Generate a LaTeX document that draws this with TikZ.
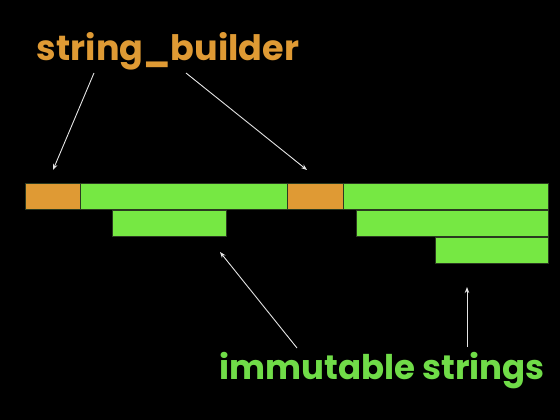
\documentclass[tikz,border=0pt]{standalone}
\usepackage{fontspec}
\setmainfont{Poppins}
\usetikzlibrary{arrows.meta}
\definecolor{sborange}{HTML}{DF9A34}
\definecolor{imgreen}{HTML}{76E843}
\definecolor{txtgreen}{HTML}{70DC48}
\definecolor{edge}{HTML}{2A3A20}
\begin{document}
\begin{tikzpicture}[x=1pt,y=-1pt,
  cell/.style={draw=edge,line width=0.6pt,inner sep=0pt,minimum height=26pt,anchor=north west},
  obox/.style={cell,fill=sborange},
  gbox/.style={cell,fill=imgreen},
  pointer/.style={draw=white!90!black,line width=0.9pt,-{Stealth[length=6pt,width=4.5pt]}},
  label/.style={inner sep=0pt,anchor=base}]
\fill[black] (0,0) rectangle (560,420);
\useasboundingbox (0,0) rectangle (560,420);
% row 1
\node[obox,minimum width=55pt] (o1) at (25,183) {};
\node[gbox,minimum width=207pt] (g1) at (80,183) {};
\node[obox,minimum width=56pt] (o2) at (287,183) {};
\node[gbox,minimum width=205pt] (g2) at (343,183) {};
% row 2
\node[gbox,minimum width=114pt] (g3) at (112,210) {};
\node[gbox,minimum width=192pt] (g4) at (356,210) {};
% row 3
\node[gbox,minimum width=113pt] (g5) at (435,237) {};
% labels
\node[label,text=sborange,font=\fontsize{35}{40}\selectfont\bfseries] (sb) at (168,61) {string\_builder};
\node[label,text=txtgreen,font=\fontsize{34}{40}\selectfont\bfseries] (im) at (382,379) {immutable strings};
% arrows
\coordinate (a1s) at (94,73);
\coordinate (a1e) at (53,170);
\coordinate (a2s) at (186,73);
\coordinate (a2e) at (307,170);
\coordinate (a3s) at (297,348);
\coordinate (a3e) at (220,252);
\coordinate (a4s) at (467,347);
\coordinate (a4e) at (467,287);
\draw[pointer] (a1s) -- (a1e);
\draw[pointer] (a2s) -- (a2e);
\draw[pointer] (a3s) -- (a3e);
\draw[pointer] (a4s) -- (a4e);
\end{tikzpicture}
\end{document}
